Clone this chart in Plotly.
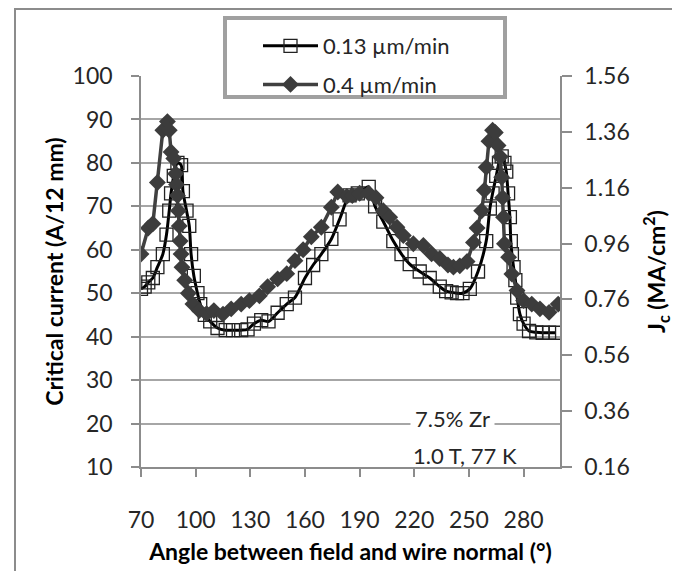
import plotly.graph_objects as go

# ---------------- data ----------------
angle_013 = [70, 72, 74, 76.5, 79, 82, 84, 85.5, 86.5, 88, 90, 92, 93, 95, 96.5, 97.5, 99, 101, 102.5,
             105, 108, 112, 116.5, 120.5, 125, 128.5, 132, 136, 140, 145, 150, 154.5, 160, 164.5, 169,
             174.5, 179, 184.5, 189, 195, 198.5, 203, 208.5, 213, 217.5, 223, 228.5, 234, 237.5, 240.5,
             243.5, 246.5, 250.5, 255, 259.5, 261.5, 263, 265, 266.5, 268, 269.5, 270.5, 271.5, 272.5,
             273, 273.6, 274.5, 275.5, 276.5, 278, 280, 283, 287, 290.5, 294, 297.5]
ic_013 = [51, 51.5, 52.5, 53.5, 56, 59, 63.5, 69, 73, 77, 80, 79.5, 73.5, 69, 65.5, 59, 54, 50, 47.5,
          45, 43.5, 42, 41.5, 41.5, 41.5, 41.7, 43, 43.8, 43.5, 45.5, 47.5, 49, 53.5, 56.5, 59,
          62.5, 67, 72.5, 73, 74.5, 70, 66.5, 62, 59, 56.7, 55, 53.5, 51.5, 50.5, 50.2,
          50, 50, 51, 55, 62, 69.5, 73, 77, 80, 81.5, 80, 78, 73, 67.5,
          62, 59, 56, 53, 49, 45.2, 43, 41.3, 41, 40.9, 40.9, 40.9]

angle_04 = [70, 74, 76.5, 79, 82, 84.5, 85.5, 86.5, 88, 89, 89.5, 90, 90.5, 91, 91.5, 92, 92.5, 94, 96,
            98.5, 102, 106, 110, 115, 119.5, 125, 129.5, 135, 139.5, 145, 150, 154.5, 159, 163.5, 169,
            174.5, 178, 183, 186, 190, 195, 199, 203, 206.5, 210.5, 214, 219.5, 225, 229.5, 234,
            238.5, 241.5, 245, 249, 252.5, 254.5, 257, 258.5, 259.5, 261, 263, 264.5, 266, 267.2,
            268, 268.5, 269, 269.5, 271.8, 273.6, 276.4, 280, 284.5, 289, 294, 299]
ic_04 = [59, 65, 66, 75.5, 87.5, 89.5, 87.5, 82.5, 81, 77.5, 75, 72.5, 69, 65.5, 62, 59, 56, 53, 50,
         47.5, 46, 45.3, 46, 45.2, 46.4, 47.5, 48.3, 49.4, 51.5, 53.3, 54.5, 57.5, 60, 63, 65.2,
         69.8, 73.3, 72.3, 72.5, 73, 73, 72, 69, 67.5, 65.2, 63.3, 61.4, 61, 59.1, 58,
         56.5, 56, 56.3, 57.3, 61.7, 65, 69, 73.7, 79, 85, 87.5, 87, 84, 81.4,
         76.7, 72, 67.5, 61.4, 58.3, 54.4, 50.6, 48.3, 47.5, 46.4, 45.6, 47.5]

x_ticks = [70, 100, 130, 160, 190, 220, 250, 280]
y_ticks = [10, 20, 30, 40, 50, 60, 70, 80, 90, 100]
jc_ticks = [0.16, 0.36, 0.56, 0.76, 0.96, 1.16, 1.36, 1.56]

# ---------------- layout geometry ----------------
# the page body keeps an 8px margin, so the figure is drawn 8px in from the window edge
OFF = 8
W, H = 680 - OFF, 571 - OFF
L, R, T, B = 141 - OFF, W - (560 - OFF), 76 - OFF, H - (467 - OFF)
pw, ph = W - L - R, H - T - B


def px(x):
    """page pixel x -> paper coordinate"""
    return (x - OFF - L) / pw


def py(y):
    """page pixel y -> paper coordinate"""
    return (H - B - (y - OFF)) / ph


FONT = "Lato"
TXT = "#262626"

fig = go.Figure()
fig.add_trace(go.Scatter(
    x=angle_013, y=ic_013, name="0.13 \u00b5m/min", mode="lines+markers",
    line=dict(color="black", width=3, shape="spline", smoothing=0.8),
    marker=dict(symbol="square-open", size=13, color="#222222", line=dict(width=1.3)),
    legendgroup="a"))
fig.add_trace(go.Scatter(
    x=angle_04, y=ic_04, name="0.4 \u00b5m/min", mode="lines+markers",
    line=dict(color="#404040", width=3.5),
    marker=dict(symbol="diamond", size=13, color="#3c3c3c"),
    legendgroup="b"))
# invisible trace for right axis
fig.add_trace(go.Scatter(x=[70], y=[0.16], yaxis="y2", mode="markers",
                         marker=dict(opacity=0), showlegend=False, hoverinfo="skip"))

fig.update_layout(
    width=W, height=H, autosize=False,
    margin=dict(l=L, r=R, t=T, b=B, autoexpand=False),
    paper_bgcolor="white", plot_bgcolor="white",
    font=dict(family=FONT, size=22, color=TXT),
    xaxis=dict(range=[70, 300], tickvals=x_ticks, ticks="outside", ticklen=8, tickwidth=1.5,
               tickcolor="#8c8c8c", showline=True, linecolor="#8c8c8c", linewidth=1.5,
               showgrid=False, zeroline=False, ticklabelstandoff=24,
               tickfont=dict(size=23, color=TXT),
               title=dict(text="<b>Angle between field and wire normal (\u00b0)</b>",
                          font=dict(size=23, color="black"), standoff=12)),
    yaxis=dict(range=[10, 100], tickvals=y_ticks, ticks="outside", ticklen=8, tickwidth=1.5,
               tickcolor="#8c8c8c", showline=True, linecolor="#8c8c8c", linewidth=1.5,
               showgrid=True, gridcolor="#a6a6a6", gridwidth=1.5, zeroline=False,
               ticklabelstandoff=14, tickfont=dict(size=23, color=TXT),
               title=dict(text="<b>Critical current (A/12 mm)</b>",
                          font=dict(size=23, color="black"), standoff=3)),
    yaxis2=dict(range=[0.16, 1.56], tickvals=jc_ticks, tickformat=".2f", overlaying="y",
                side="right", ticks="outside", ticklen=10, tickwidth=1.5, tickcolor="#8c8c8c",
                showline=True, linecolor="#8c8c8c", linewidth=1.5, showgrid=False,
                zeroline=False, ticklabelstandoff=8, tickfont=dict(size=23, color=TXT),
                title=dict(text="<b>J<sub>c</sub> (MA/cm<sup>2</sup>)</b>",
                           font=dict(size=23, color="black"), standoff=20)),
    legend=dict(x=px(258), y=py(25), xanchor="left", yanchor="top",
                bgcolor="rgba(0,0,0,0)", borderwidth=0, itemwidth=55,
                font=dict(size=22, color=TXT), tracegroupgap=7, traceorder="grouped"),
    shapes=[
        # outer chart frame
        dict(type="rect", xref="paper", yref="paper", x0=px(15), x1=px(677), y0=py(600), y1=py(9),
             line=dict(color="#8c8c8c", width=2), fillcolor="rgba(0,0,0,0)", layer="above"),
        # legend box
        dict(type="rect", xref="paper", yref="paper", x0=px(225), x1=px(505), y0=py(97), y1=py(18),
             line=dict(color="#a0a0a0", width=4), fillcolor="white", layer="above"),
    ],
    annotations=[
        dict(text="7.5% Zr", xref="paper", yref="paper", x=px(410), y=py(418), xanchor="left",
             yanchor="middle", showarrow=False, bgcolor="white", borderpad=4,
             font=dict(size=22, color=TXT)),
        dict(text="1.0 T, 77 K", xref="paper", yref="paper", x=px(412), y=py(455), xanchor="left",
             yanchor="middle", showarrow=False, borderpad=0,
             font=dict(size=22, color=TXT)),
    ],
)

fig.write_html("out.html")
